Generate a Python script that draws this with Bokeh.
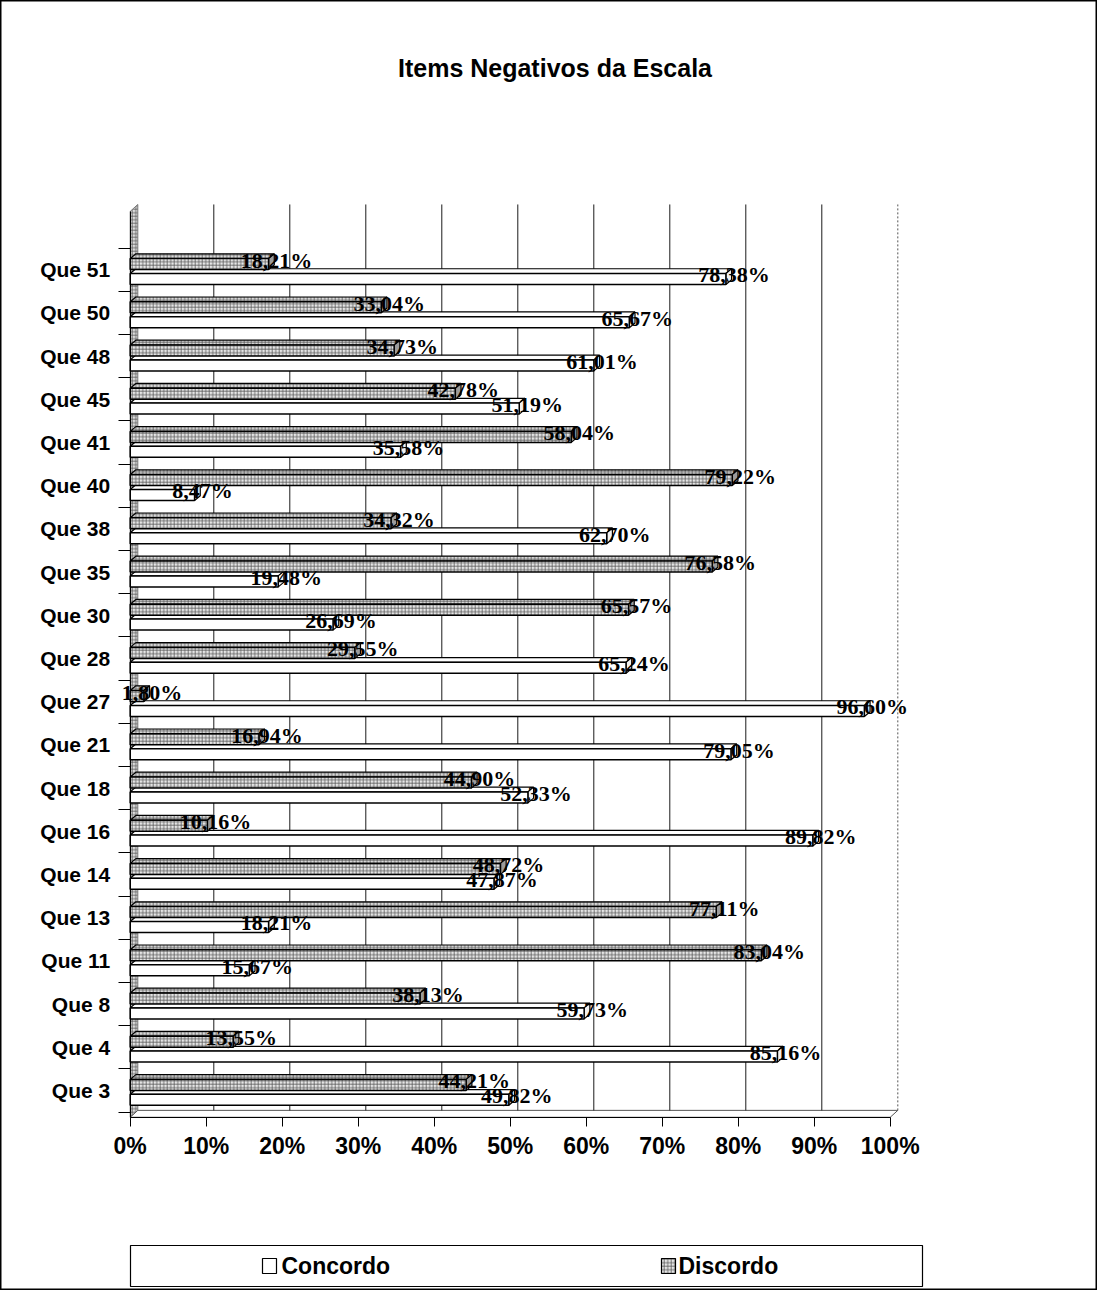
from bokeh.plotting import figure
from bokeh.models import (ColumnDataSource, LinearAxis, FixedTicker,
                          PrintfTickFormatter, Label, Range1d)
from bokeh.core.properties import value
from bokeh.embed import file_html
from bokeh.resources import INLINE

# ---------------- data ----------------
categories = ["Que 3", "Que 4", "Que 8", "Que 11", "Que 13", "Que 14", "Que 16",
              "Que 18", "Que 21", "Que 27", "Que 28", "Que 30", "Que 35", "Que 38",
              "Que 40", "Que 41", "Que 45", "Que 48", "Que 50", "Que 51"]
concordo = [49.82, 85.16, 59.73, 15.67, 18.21, 47.87, 89.82, 52.33, 79.05, 96.60,
            65.24, 26.69, 19.48, 62.70, 8.47, 35.58, 51.19, 61.01, 65.67, 78.38]
discordo = [44.21, 13.55, 38.13, 83.04, 77.11, 48.72, 10.16, 44.90, 16.94, 1.80,
            29.55, 65.57, 76.58, 34.32, 79.22, 58.04, 42.78, 34.73, 33.04, 18.21]
x_ticks = [0, 10, 20, 30, 40, 50, 60, 70, 80, 90, 100]
series_names = ["Concordo", "Discordo"]
title_text = "Items Negativos da Escala"

# ---------------- geometry ----------------
W, H = 1097, 1290
PX_X, PX_Y = 7.6, 43.2          # pixels per data unit
X0_PAGE, Y0_PAGE = 137.7, 1098  # page position of x=0 / first category


def px2x(page_x):
    return (page_x - X0_PAGE) / PX_X


def px2y(page_y):
    return (Y0_PAGE - page_y) / PX_Y


SANS = "Liberation Sans"
SERIF = "Liberation Serif"

p = figure(width=W, height=H, output_backend="svg", toolbar_location=None,
           x_range=Range1d(px2x(8), px2x(8 + W)),
           y_range=Range1d(px2y(8 + H), px2y(8)),
           x_axis_type=None, y_axis_type=None,
           min_border_left=0, min_border_right=0,
           min_border_top=0, min_border_bottom=0)
p.outline_line_color = "black"
p.outline_line_width = 2
p.background_fill_color = "white"
p.border_fill_color = "white"

# 3D depth
DX, DY = 1.0, 0.16
Y_FLOOR = -0.62
Y_TOP = 20.51

hatch_kw = dict(hatch_pattern="cross", hatch_scale=3.5, hatch_color="#5a5a5a",
                hatch_weight=0.8)

# left wall
p.patch(x=[0, DX, DX, 0], y=[Y_FLOOR, Y_FLOOR + DY, Y_TOP, Y_TOP - DY],
        fill_color="#dddddd", line_color="#777777", line_width=1, **hatch_kw)
# floor
p.patch(x=[0, x_ticks[-1], x_ticks[-1] + DX, DX],
        y=[Y_FLOOR, Y_FLOOR, Y_FLOOR + DY, Y_FLOOR + DY],
        fill_color="white", line_color="#555555", line_width=1)
# back-wall grid lines
grid_x = [t + DX for t in x_ticks[1:-1]]
p.segment(x0=grid_x, y0=[Y_FLOOR + DY] * len(grid_x), x1=grid_x, y1=[Y_TOP] * len(grid_x),
          line_color="black", line_width=0.9)
p.segment(x0=[x_ticks[-1] + DX], y0=[Y_FLOOR + DY], x1=[x_ticks[-1] + DX], y1=[Y_TOP],
          line_color="#555555", line_width=1, line_dash="2 2")

# ---------------- bars ----------------
idx = list(range(len(categories)))
BAR_H = 0.255
BDX, BDY = 0.75, 0.11
OFF_C, OFF_D = -0.215, 0.13


def bar_faces(vals, offset):
    top_xs, top_ys, side_xs, side_ys = [], [], [], []
    for i, v in zip(idx, vals):
        b = i + offset - BAR_H / 2
        t = i + offset + BAR_H / 2
        top_xs.append([0, v, v + BDX, BDX])
        top_ys.append([t, t, t + BDY, t + BDY])
        side_xs.append([v, v + BDX, v + BDX, v])
        side_ys.append([b, b + BDY, t + BDY, t])
    return top_xs, top_ys, side_xs, side_ys


def fmt(v):
    return f"{v:.2f}".replace(".", ",") + "%"


for vals, off, is_disc in ((concordo, OFF_C, False), (discordo, OFF_D, True)):
    tx, ty, sx, sy = bar_faces(vals, off)
    src = ColumnDataSource(dict(y=[i + off for i in idx], right=vals))
    if is_disc:
        p.patches(xs=tx, ys=ty, fill_color="#d8d8d8", line_color="black", line_width=1.2, **hatch_kw)
        p.patches(xs=sx, ys=sy, fill_color="#9c9c9c", line_color="black", line_width=1.2)
        p.hbar(y="y", left=0, right="right", height=BAR_H, source=src,
               fill_color="#e6e6e6", line_color="black", line_width=1.5, **hatch_kw)
    else:
        p.patches(xs=tx, ys=ty, fill_color="white", line_color="black", line_width=1.2)
        p.patches(xs=sx, ys=sy, fill_color="#f2f2f2", line_color="black", line_width=1.2)
        p.hbar(y="y", left=0, right="right", height=BAR_H, source=src,
               fill_color="white", line_color="black", line_width=1.5)

# data labels
for vals, off in ((concordo, OFF_C), (discordo, OFF_D)):
    lsrc = ColumnDataSource(dict(x=vals, y=[i + off for i in idx],
                                 t=[fmt(v) for v in vals]))
    p.text(x="x", y="y", text="t", source=lsrc, x_offset=8, y_offset=-4,
           text_align="center", text_baseline="middle",
           text_font=value(SERIF), text_font_style="bold",
           text_font_size="22px", text_color="black")

# ---------------- axes ----------------
xaxis = LinearAxis(fixed_location=Y_FLOOR, bounds=(x_ticks[0], x_ticks[-1]),
                   ticker=FixedTicker(ticks=x_ticks),
                   formatter=PrintfTickFormatter(format="%d%%"))
xaxis.major_tick_out = 9
xaxis.major_tick_in = 0
xaxis.minor_tick_out = 0
xaxis.major_label_standoff = 7
xaxis.axis_line_color = "black"
xaxis.major_label_text_font = SANS
xaxis.major_label_text_font_style = "bold"
xaxis.major_label_text_font_size = "23px"
xaxis.major_label_text_color = "black"
p.add_layout(xaxis, "below")

yaxis = LinearAxis(fixed_location=0, bounds=(Y_FLOOR, Y_TOP - DY),
                   ticker=FixedTicker(ticks=idx, minor_ticks=[i - 0.5 for i in range(len(idx) + 1)]),
                   major_label_overrides={i: c for i, c in zip(idx, categories)})
yaxis.major_tick_out = 0
yaxis.major_tick_in = 0
yaxis.minor_tick_out = 12
yaxis.minor_tick_in = 0
yaxis.major_label_standoff = 8
yaxis.axis_line_color = "black"
yaxis.major_label_text_font = SANS
yaxis.major_label_text_font_style = "bold"
yaxis.major_label_text_font_size = "21px"
yaxis.major_label_text_color = "black"
p.add_layout(yaxis, "left")

# ---------------- title ----------------
p.add_layout(Label(x=px2x(562.5), y=px2y(75), text=title_text,
                   text_align="center", text_baseline="middle",
                   text_font=SANS, text_font_style="bold",
                   text_font_size="25px", text_color="black"))

# ---------------- legend ----------------
LEG_TOP, LEG_BOT = px2y(1253), px2y(1294)
LEG_MID = (LEG_TOP + LEG_BOT) / 2
p.quad(left=[px2x(138)], right=[px2x(930)], bottom=[LEG_BOT], top=[LEG_TOP],
       fill_color="white", line_color="black", line_width=1.2)
p.rect(x=[px2x(277)], y=[LEG_MID], width=14, height=15,
       width_units="screen", height_units="screen",
       fill_color="white", line_color="black", line_width=1.2)
p.rect(x=[px2x(676)], y=[LEG_MID], width=14, height=15,
       width_units="screen", height_units="screen",
       fill_color="#e6e6e6", line_color="black", line_width=1.2, **hatch_kw)
p.text(x=[px2x(289), px2x(686)], y=[LEG_MID, LEG_MID], text=series_names,
       text_align="left", text_baseline="middle",
       text_font=value(SANS), text_font_style="bold", text_font_size="23px",
       text_color="black")

open("out.html", "w").write(file_html(p, INLINE))
